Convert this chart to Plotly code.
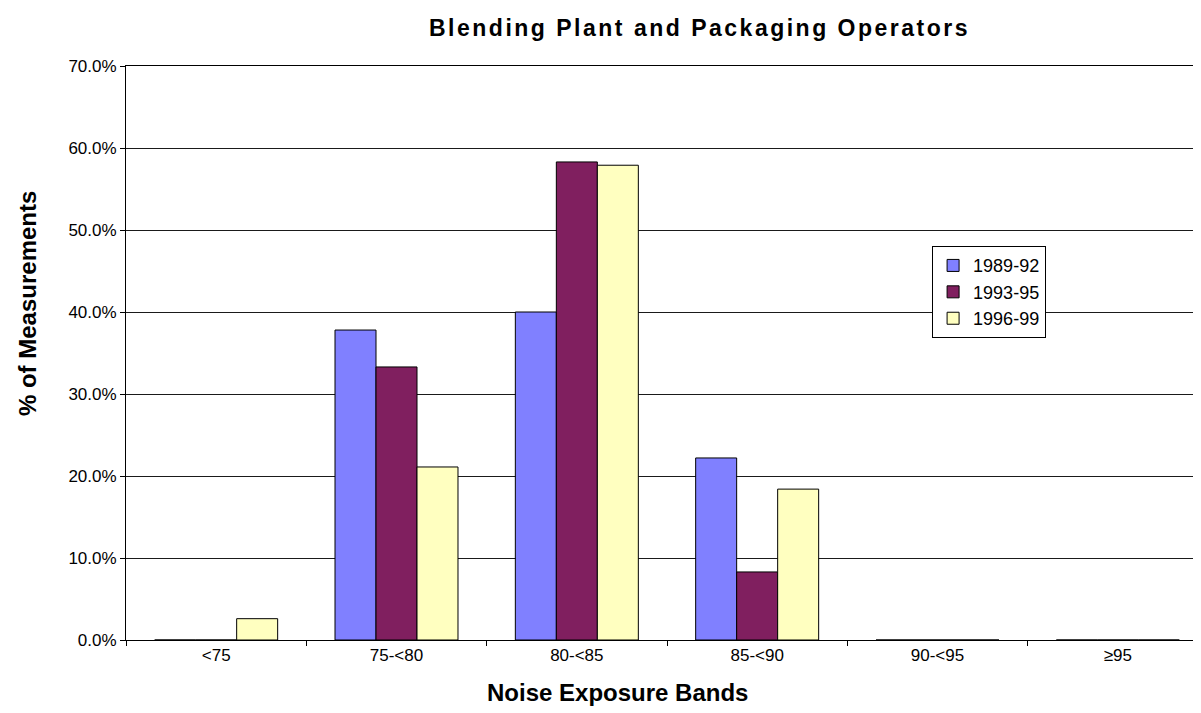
import plotly.graph_objects as go

categories = ["<75", "75-<80", "80-<85", "85-<90", "90-<95", "≥95"]
s1989_92 = [0.0, 0.378, 0.400, 0.222, 0.0, 0.0]
s1993_95 = [0.0, 0.333, 0.583, 0.083, 0.0, 0.0]
s1996_99 = [0.026, 0.211, 0.579, 0.184, 0.0, 0.0]
series_names = ["1989-92", "1993-95", "1996-99"]
series_colors = ["#8080FF", "#801F5F", "#FFFFC0"]

title_text = "Blending Plant and Packaging Operators"
x_title = "Noise Exposure Bands"
y_title = "% of Measurements"

FONT = "Liberation Sans, Arial, sans-serif"

fig = go.Figure()
for name, vals, col in zip(series_names, [s1989_92, s1993_95, s1996_99], series_colors):
    fig.add_trace(go.Bar(
        x=categories, y=vals, name=name,
        marker=dict(color=col, line=dict(color="#000000", width=1)),
        hoverinfo="x+y+name",
    ))

fig.update_layout(
    width=1201, height=713,
    margin=dict(l=118, r=1, t=58, b=81),
    paper_bgcolor="white", plot_bgcolor="white",
    barmode="group", bargap=0.318, bargroupgap=0.0,
    font=dict(family=FONT, color="#000000"),
    showlegend=True,
    legend=dict(
        x=0.745, y=0.686, xanchor="left", yanchor="top",
        bgcolor="white", bordercolor="#000000", borderwidth=1,
        font=dict(family=FONT, size=18, color="#000000"),
        itemwidth=30, tracegroupgap=0,
    ),
    xaxis=dict(
        type="category",
        showline=True, linecolor="#000000", linewidth=1, mirror=True,
        ticks="outside", ticklen=5, tickcolor="#000000", tickson="boundaries",
        tickfont=dict(family=FONT, size=17, color="#000000"),
        showgrid=False, zeroline=False,
    ),
    yaxis=dict(
        range=[0, 0.7], dtick=0.1, tickformat=".1%",
        showline=True, linecolor="#000000", linewidth=1,
        ticks="outside", ticklen=5, tickcolor="#000000",
        tickfont=dict(family=FONT, size=17, color="#000000"),
        showgrid=True, gridcolor="#1a1a1a", gridwidth=1,
        zeroline=False,
    ),
    annotations=[
        dict(text='<span style="letter-spacing:2.5px">' + title_text + '</span>',
             xref="paper", yref="paper", x=0.530, y=1.066,
             xanchor="center", yanchor="middle", showarrow=False,
             font=dict(family=FONT, size=23, color="#000000", weight="bold")),
        dict(text=x_title, xref="paper", yref="paper", x=0.4547, y=-0.091,
             xanchor="center", yanchor="middle", showarrow=False,
             font=dict(family=FONT, size=24, color="#000000", weight="bold")),
        dict(text=y_title, xref="paper", yref="paper", x=-0.0915, y=0.587,
             xanchor="center", yanchor="middle", showarrow=False, textangle=-90,
             font=dict(family=FONT, size=24, color="#000000", weight="bold")),
    ],
)

fig.write_html("out.html")
